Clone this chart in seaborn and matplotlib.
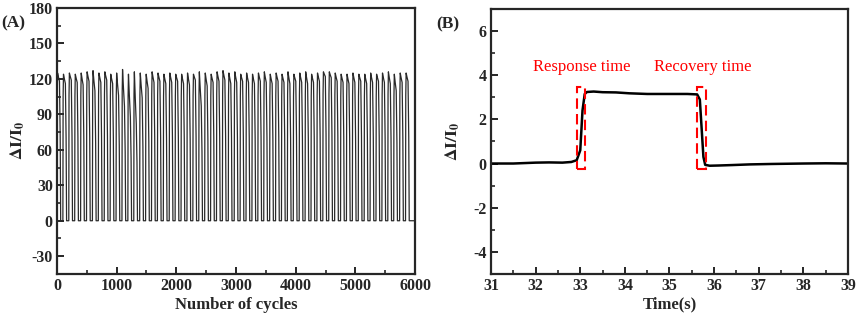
import numpy as np
import pandas as pd
import matplotlib
matplotlib.use("Agg")
import matplotlib.pyplot as plt
from matplotlib.patches import Rectangle
from matplotlib.ticker import MultipleLocator
import seaborn as sns

# ---- panel A: cycling test, one entry per loading cycle ----
cycle_start = [0, 99, 198, 297, 396, 495, 594, 693, 792, 891,
               990, 1089, 1188, 1287, 1386, 1485, 1584, 1683, 1782, 1881,
               1980, 2079, 2178, 2277, 2376, 2475, 2574, 2673, 2772, 2871,
               2970, 3069, 3168, 3267, 3366, 3465, 3564, 3663, 3762, 3861,
               3960, 4059, 4158, 4257, 4356, 4455, 4554, 4653, 4752, 4851,
               4950, 5049, 5148, 5247, 5346, 5445, 5544, 5643, 5742, 5841]
peak = [125, 124, 125, 124, 125, 126, 127, 125, 126, 124,
        125, 128, 124, 126, 125, 124, 126, 125, 124, 125,
        124, 124, 125, 124, 126, 125, 124, 126, 127, 125,
        126, 124, 125, 124, 125, 126, 124, 125, 124, 126,
        124, 125, 126, 124, 125, 126, 126, 125, 124, 124,
        125, 124, 124, 125, 124, 125, 126, 124, 125, 125]
shoulder = [118, 116, 119, 117, 115, 118, 110, 117, 119, 116,
            106, 97, 88, 82, 104, 112, 117, 118, 116, 117,
            118, 116, 115, 119, 97, 114, 117, 118, 119, 116,
            117, 118, 117, 116, 118, 117, 116, 118, 117, 116,
            118, 117, 116, 117, 118, 122, 121, 118, 117, 116,
            117, 118, 116, 117, 118, 117, 116, 110, 117, 118]
cycles_end = 6000

# ---- panel B: single response / recovery pulse ----
t = [31.0, 31.5, 32.0, 32.3, 32.6, 32.8, 32.92, 33.0, 33.05, 33.1, 33.15,
     33.3, 33.5, 33.8, 34.1, 34.5, 35.0, 35.4, 35.62, 35.68, 35.72, 35.76,
     35.8, 35.9, 36.1, 36.4, 36.8, 37.3, 38.0, 38.5, 39.0]
dI = [0.0, 0.0, 0.04, 0.05, 0.04, 0.07, 0.15, 0.6, 2.4, 3.15, 3.24,
      3.26, 3.23, 3.22, 3.18, 3.15, 3.15, 3.15, 3.13, 2.9, 1.6, 0.3,
      -0.06, -0.1, -0.09, -0.07, -0.04, -0.02, 0.0, 0.01, 0.0]

box_x = [(32.92, 33.11), (35.61, 35.81)]
box_y = (-0.24, 3.48)
box_text = ["Response time", "Recovery time"]
text_xy = [(33.03, 4.35), (35.75, 4.35)]

# build the cycle trace from the per-cycle key values
xa, ya = [], []
for s, p, sh in zip(cycle_start, peak, shoulder):
    xa += [s, s + 4, s + 10, s + 25, s + 42, s + 54, s + 62]
    ya += [0, p * 0.85, p, (p + sh) / 2, sh, sh * 0.6, 0]
xa.append(cycles_end)
ya.append(0)
dfa = pd.DataFrame({"cycle": xa, "val": ya})
dfb = pd.DataFrame({"t": t, "val": dI})

sns.set_theme(style="ticks")
plt.rcParams["font.family"] = ["Liberation Serif", "DejaVu Serif"]
plt.rcParams["font.weight"] = "bold"
plt.rcParams["mathtext.fontset"] = "stix"
plt.rcParams["axes.unicode_minus"] = False
plt.rcParams["axes.linewidth"] = 1.6
for ax_ in ("xtick", "ytick"):
    plt.rcParams[f"{ax_}.direction"] = "in"
    plt.rcParams[f"{ax_}.major.size"] = 5
    plt.rcParams[f"{ax_}.minor.size"] = 3
    plt.rcParams[f"{ax_}.major.width"] = 1.4
    plt.rcParams[f"{ax_}.minor.width"] = 1.2

fig = plt.figure(figsize=(8.58, 3.2), dpi=100)
axA = fig.add_axes([0.0664, 0.144, 0.4173, 0.831])
axB = fig.add_axes([0.5723, 0.144, 0.416, 0.828])

sns.lineplot(data=dfa, x="cycle", y="val", ax=axA, color="#2a2a2a",
             linewidth=0.9, estimator=None)
axA.set_xlim(0, 6000)
axA.set_ylim(-45, 180)
axA.xaxis.set_major_locator(MultipleLocator(1000))
axA.xaxis.set_minor_locator(MultipleLocator(500))
axA.yaxis.set_major_locator(MultipleLocator(30))
axA.yaxis.set_minor_locator(MultipleLocator(15))
axA.set_xlabel("Number of cycles", fontsize=12, fontweight="bold", labelpad=2)
axA.set_ylabel(r"$\mathbf{\Delta I/I_0}$", fontsize=12.5, labelpad=1)

sns.lineplot(data=dfb, x="t", y="val", ax=axB, color="black",
             linewidth=1.8, estimator=None)
axB.set_xlim(31, 39)
axB.set_ylim(-5, 7)
axB.xaxis.set_major_locator(MultipleLocator(1))
axB.xaxis.set_minor_locator(MultipleLocator(0.5))
axB.yaxis.set_major_locator(MultipleLocator(2))
axB.yaxis.set_minor_locator(MultipleLocator(1))
axB.set_xlabel("Time(s)", fontsize=12, fontweight="bold", labelpad=2)
axB.set_ylabel(r"$\mathbf{\Delta I/I_0}$", fontsize=12.5, labelpad=8)

for (x0, x1), lab, (tx, ty) in zip(box_x, box_text, text_xy):
    axB.add_patch(Rectangle((x0, box_y[0]), x1 - x0, box_y[1] - box_y[0],
                            fill=False, edgecolor="red", linestyle=(0, (5, 2.5)),
                            linewidth=1.5, zorder=3))
    axB.text(tx, ty, lab, color="red", fontsize=12, fontweight="normal",
             ha="center", va="center")

for ax in (axA, axB):
    ax.tick_params(which="both", top=False, right=False, labelsize=11.5, pad=3)
    for lbl in ax.get_xticklabels() + ax.get_yticklabels():
        lbl.set_fontweight("bold")
    for sp in ax.spines.values():
        sp.set_visible(True)
        sp.set_linewidth(1.6)

fig.text(0.002, 0.928, "(A)", fontsize=12.5, fontweight="bold", va="center")
fig.text(0.508, 0.925, "(B)", fontsize=12.5, fontweight="bold", va="center")

fig.savefig("out.png", dpi=100)
